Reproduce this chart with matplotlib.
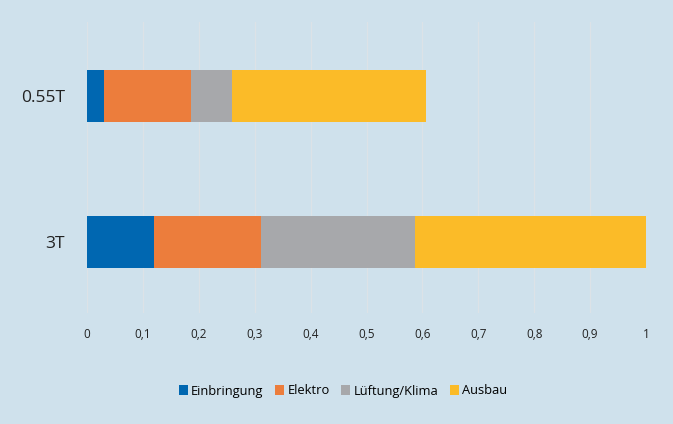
import numpy as np
import matplotlib.pyplot as plt

plt.rcParams['font.family'] = ['Open Sans', 'DejaVu Sans']

categories = ["3T", "0.55T"]
series = ["Einbringung", "Elektro", "Lüftung/Klima", "Ausbau"]
values = {
    "Einbringung": [0.120, 0.030],
    "Elektro": [0.191, 0.156],
    "Lüftung/Klima": [0.276, 0.073],
    "Ausbau": [0.413, 0.347],
}
colors = ["#0067b1", "#ec7d3c", "#a7a8ab", "#fbbb28"]
bg = "#cfe1ec"

fig = plt.figure(figsize=(6.73, 4.24), dpi=100, facecolor=bg)
ax = fig.add_axes([87 / 673, 1 - 313 / 424, 559 / 673, 291 / 424])
ax.set_facecolor(bg)

y = np.arange(len(categories))
left = np.zeros(len(categories))
for name, col in zip(series, colors):
    vals = np.array(values[name])
    ax.barh(y, vals, left=left, height=0.356, color=col, label=name, zorder=3)
    left += vals

ax.set_xlim(0, 1)
ax.set_ylim(-0.486, 1.507)
ax.set_xticks(np.arange(0, 1.01, 0.1))
ax.set_xticklabels(["0"] + [f"0,{i}" for i in range(1, 10)] + ["1"])
ax.set_yticks(y)
ax.set_yticklabels(categories, fontsize=12.5, color="#222222")
ax.tick_params(axis="x", length=0, pad=11, labelsize=8.5, colors="#222222")
ax.tick_params(axis="y", length=0, pad=16)
ax.grid(axis="x", color="#dce2e7", linewidth=0.9, zorder=0)
for s in ax.spines.values():
    s.set_visible(False)

fig.legend(loc="center", bbox_to_anchor=(343 / 673, 1 - 391 / 424), ncol=4,
           frameon=False, fontsize=9.3, handlelength=0.7, handleheight=0.7,
           handletextpad=0.25, columnspacing=0.9)

fig.savefig("out.png", dpi=100, facecolor=bg)
